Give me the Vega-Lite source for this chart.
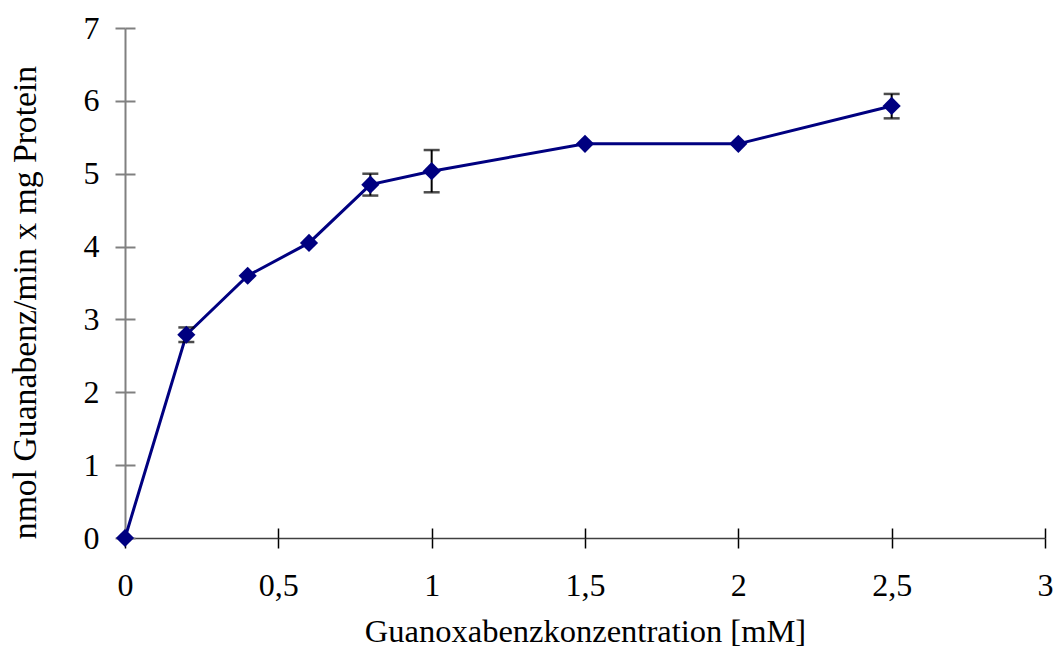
{
  "$schema": "https://vega.github.io/schema/vega-lite/v6.json",
  "width": 920,
  "height": 510,
  "autosize": "none",
  "padding": {"left": 125, "top": 28, "right": 8, "bottom": 110},
  "background": "white",
  "config": {
    "view": {"stroke": null},
    "font": "Liberation Serif",
    "axis": {
      "labelFont": "Liberation Serif",
      "titleFont": "Liberation Serif",
      "labelFontSize": 32,
      "titleFontSize": 32.5,
      "labelColor": "black",
      "titleColor": "black",
      "titleFontWeight": "normal",
      "labelFlush": false,
      "grid": false
    }
  },
  "data": {
    "values": [
      {"x": 0, "y": 0},
      {"x": 0.2, "y": 2.79, "lo": 2.69, "hi": 2.89},
      {"x": 0.4, "y": 3.6},
      {"x": 0.6, "y": 4.05},
      {"x": 0.8, "y": 4.85, "lo": 4.70, "hi": 5.00},
      {"x": 1.0, "y": 5.035, "lo": 4.745, "hi": 5.325},
      {"x": 1.5, "y": 5.41},
      {"x": 2.0, "y": 5.41},
      {"x": 2.5, "y": 5.93, "lo": 5.76, "hi": 6.095}
    ]
  },
  "resolve": {"axis": {"x": "independent", "y": "independent"}},
  "layer": [
    {
      "mark": {"type": "line", "color": "#000080", "strokeWidth": 3},
      "encoding": {
        "x": {
          "field": "x", "type": "quantitative",
          "scale": {"domain": [0, 3], "nice": false, "zero": false},
          "axis": {
            "orient": "bottom",
            "values": [0, 0.5, 1, 1.5, 2, 2.5, 3],
            "labelExpr": "replace(format(datum.value, '~g'), '.', ',')",
            "title": "Guanoxabenzkonzentration [mM]",
            "domainColor": "#404040", "domainWidth": 1.5,
            "tickColor": "#000000", "tickSize": 10, "tickWidth": 1.5,
            "labelPadding": 22, "titlePadding": 14
          }
        },
        "y": {
          "field": "y", "type": "quantitative",
          "scale": {"domain": [0, 7], "nice": false},
          "axis": {
            "orient": "left",
            "values": [0, 1, 2, 3, 4, 5, 6, 7],
            "title": "nmol Guanabenz/min x mg Protein",
            "titleFontSize": 33.7,
            "titleBaseline": "alphabetic",
            "titleX": -90,
            "titleY": 274,
            "domainColor": "#808080", "domainWidth": 2,
            "tickColor": "#808080", "tickSize": 10, "tickWidth": 2,
            "labelPadding": 16
          }
        }
      }
    },
    {
      "transform": [{"filter": "isValid(datum.lo)"}],
      "mark": {"type": "rule", "color": "black", "strokeWidth": 2},
      "encoding": {
        "x": {"field": "x", "type": "quantitative", "axis": {"orient": "bottom", "values": [0, 0.5, 1, 1.5, 2, 2.5, 3], "labels": false, "domain": false, "title": null, "tickSize": -10, "tickColor": "#000000", "tickWidth": 1.5}},
        "y": {"field": "lo", "type": "quantitative", "axis": {"orient": "left", "values": [0, 1, 2, 3, 4, 5, 6, 7], "labels": false, "domain": false, "title": null, "tickSize": -10, "tickColor": "#808080", "tickWidth": 2}},
        "y2": {"field": "hi"}
      }
    },
    {
      "transform": [{"filter": "isValid(datum.lo)"}],
      "mark": {"type": "tick", "color": "black", "orient": "horizontal", "size": 16, "thickness": 2.5},
      "encoding": {
        "x": {"field": "x", "type": "quantitative", "axis": null},
        "y": {"field": "lo", "type": "quantitative", "axis": null}
      }
    },
    {
      "transform": [{"filter": "isValid(datum.hi)"}],
      "mark": {"type": "tick", "color": "black", "orient": "horizontal", "size": 16, "thickness": 2.5},
      "encoding": {
        "x": {"field": "x", "type": "quantitative", "axis": null},
        "y": {"field": "hi", "type": "quantitative", "axis": null}
      }
    },
    {
      "mark": {"type": "point", "shape": "diamond", "filled": true, "color": "#000080", "size": 330, "opacity": 1},
      "encoding": {
        "x": {"field": "x", "type": "quantitative", "axis": null},
        "y": {"field": "y", "type": "quantitative", "axis": null}
      }
    }
  ]
}
